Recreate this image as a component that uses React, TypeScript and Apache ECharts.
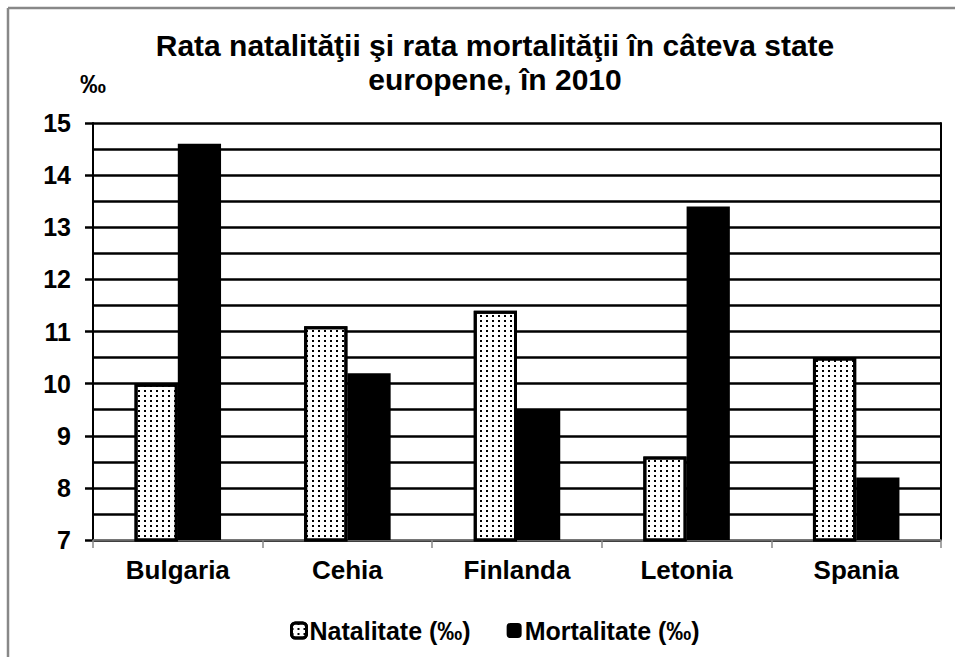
import React, { useEffect, useRef } from "react";
import * as echarts from "echarts";

const categories = ["Bulgaria", "Cehia", "Finlanda", "Letonia", "Spania"];
const natalitate = [10.0, 11.1, 11.4, 8.6, 10.5];
const mortalitate = [14.6, 10.2, 9.5, 13.4, 8.2];
const seriesNames = ["Natalitate (‰)", "Mortalitate (‰)"];
const titleText = "Rata natalităţii şi rata mortalităţii în câteva state\neuropene, în 2010";
const yMin = 7;
const yMax = 15;

const FONT = "'Liberation Sans', Arial, sans-serif";

export default function App() {
  const ref = useRef<HTMLDivElement>(null);
  useEffect(() => {
    if (!ref.current) return;
    const chart = echarts.init(ref.current, null, { renderer: "svg" });
    const decal = {
      symbol: "rect",
      symbolSize: 1,
      color: "#000",
      backgroundColor: "#fff",
      dashArrayX: [1.5, 4],
      dashArrayY: [1.5, 3],
      rotation: 0,
    };
    chart.setOption({
      animation: false,
      backgroundColor: "#fff",
      textStyle: { fontFamily: FONT },
      title: {
        text: titleText,
        left: 490,
        textAlign: "center",
        top: 23,
        textStyle: {
          fontFamily: FONT,
          fontSize: 30,
          fontWeight: "bold",
          color: "#000",
          lineHeight: 34,
        },
      },
      legend: {
        top: 613,
        left: 285,
        itemWidth: 15,
        itemHeight: 15,
        itemGap: 36,
        textStyle: { fontFamily: FONT, fontSize: 25, fontWeight: "bold", color: "#000", padding: [0, 0, 0, -2] },
        data: [
          { name: seriesNames[0], itemStyle: { color: "#fff", borderColor: "#000", borderWidth: 3, decal } },
          { name: seriesNames[1], itemStyle: { color: "#000" } },
        ],
      },
      grid: { left: 93, right: 14, top: 123, bottom: 117 },
      xAxis: {
        type: "category",
        data: categories,
        axisLine: { lineStyle: { color: "#888", width: 1.5 } },
        axisTick: { show: true, length: 8, lineStyle: { color: "#888", width: 1.5 } },
        axisLabel: { fontFamily: FONT, fontSize: 26, fontWeight: "bold", color: "#000", margin: 17 },
      },
      yAxis: [
        {
          type: "value",
          min: yMin,
          max: yMax,
          interval: 1,
          name: "‰",
          nameLocation: "end",
          nameGap: 26,
          nameTextStyle: { fontFamily: FONT, fontSize: 26, fontWeight: "bold", color: "#000", align: "center", padding: [0, 0, 0, 0] },
          axisLine: { show: true, lineStyle: { color: "#000", width: 2 } },
          axisTick: { show: true, length: 8, lineStyle: { color: "#000", width: 2.5 } },
          axisLabel: { fontFamily: FONT, fontSize: 25, fontWeight: "bold", color: "#000", margin: 22 },
          splitLine: { show: true, lineStyle: { color: "#000", width: 2.5 } },
          minorTick: { show: false, splitNumber: 2 },
          minorSplitLine: { show: true, lineStyle: { color: "#000", width: 2.5 } },
        },
        {
          type: "value",
          min: yMin,
          max: yMax,
          position: "right",
          axisLine: { show: true, lineStyle: { color: "#000", width: 2 } },
          axisTick: { show: false },
          axisLabel: { show: false },
          splitLine: { show: false },
        },
      ],
      series: [
        {
          name: seriesNames[0],
          type: "bar",
          data: natalitate,
          barGap: "0%",
          barCategoryGap: "49%",
          itemStyle: { color: "#fff", borderColor: "#000", borderWidth: 3, decal },
        },
        {
          name: seriesNames[1],
          type: "bar",
          data: mortalitate,
          itemStyle: { color: "#000" },
        },
      ],
      graphic: [
        { type: "line", shape: { x1: 8, y1: 8, x2: 955, y2: 8 }, style: { stroke: "#888", lineWidth: 2.5 } },
        { type: "line", shape: { x1: 8, y1: 8, x2: 8, y2: 657 }, style: { stroke: "#888", lineWidth: 2.5 } },
      ],
    });
    return () => chart.dispose();
  }, []);
  return <div ref={ref} style={{ position: "fixed", left: 0, top: 0, width: 955, height: 657 }} />;
}
